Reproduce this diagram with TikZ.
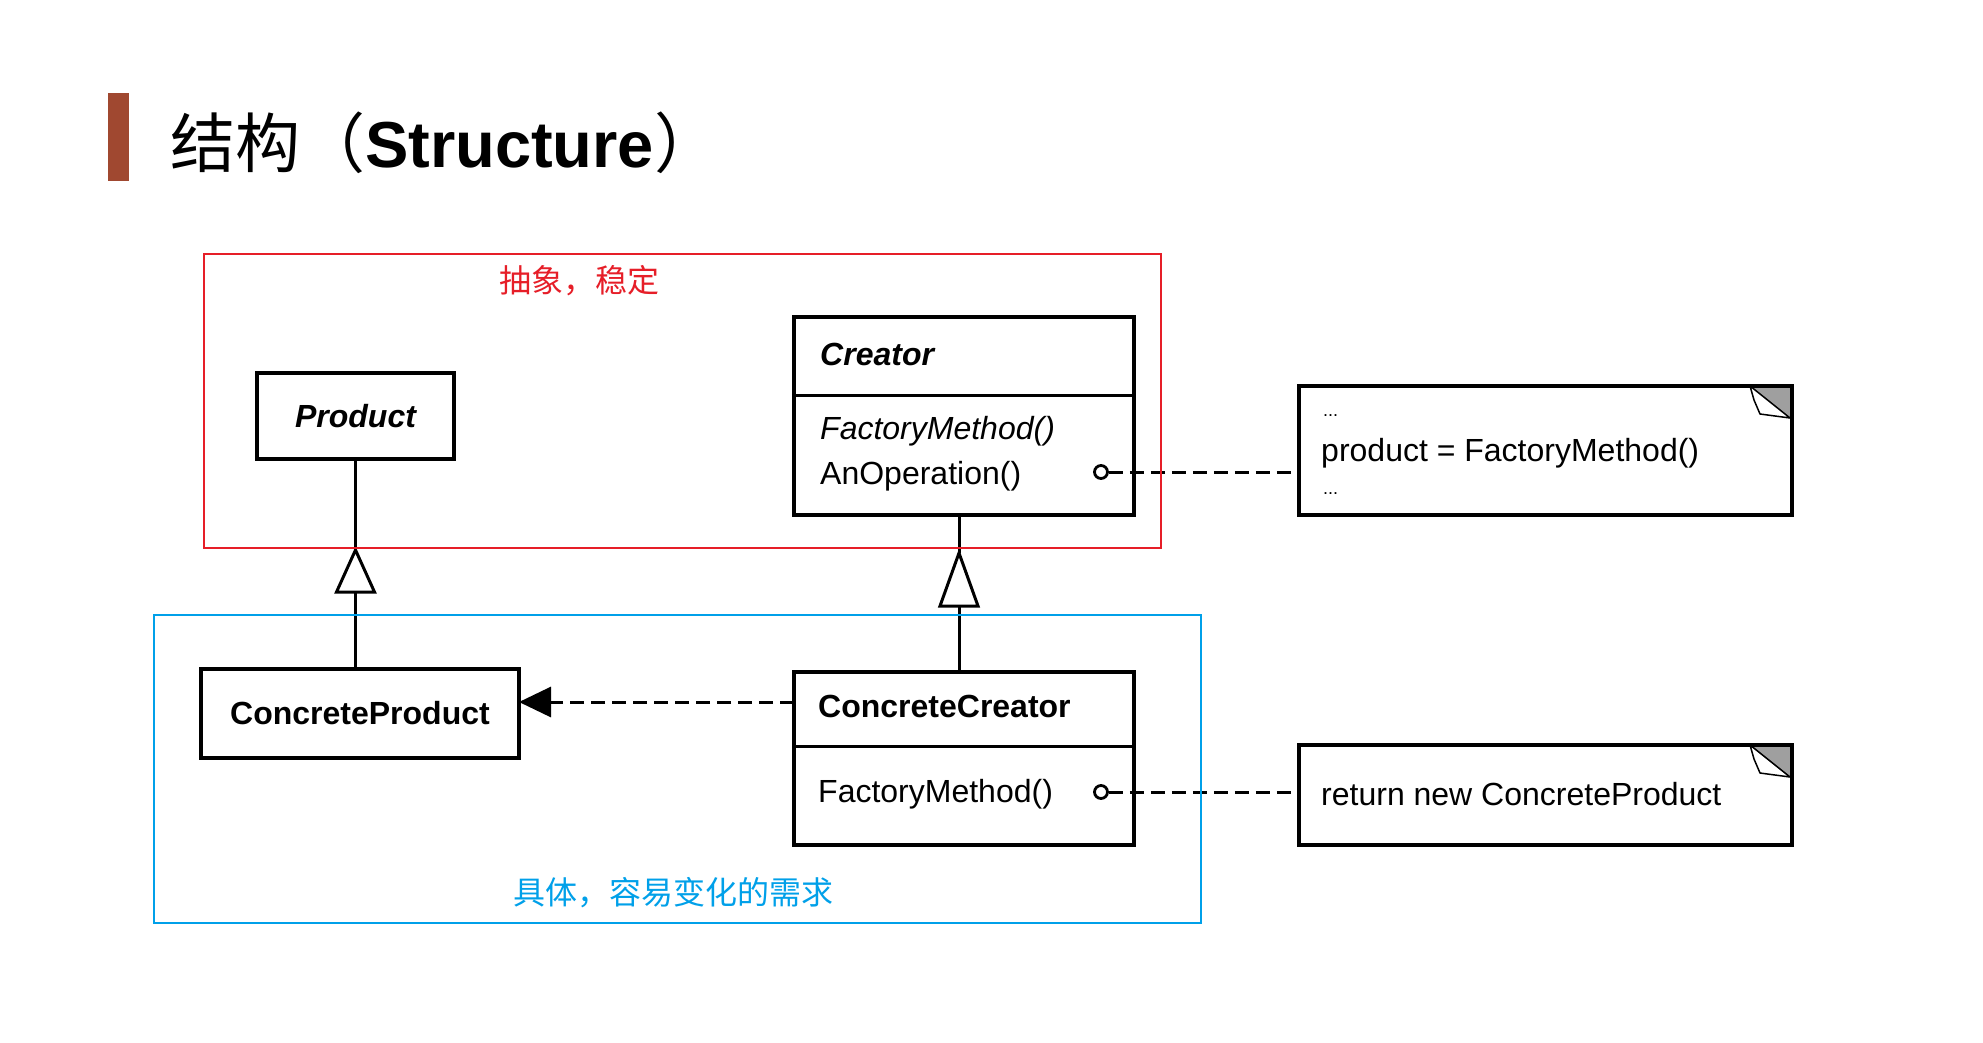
\documentclass[tikz,border=0pt]{standalone}
\usepackage{fontspec}
\setmainfont{Liberation Sans}
\newfontfamily\cjk{Noto Sans CJK SC}
\usetikzlibrary{arrows.meta,calc}
\definecolor{redc}{RGB}{230,30,40}
\definecolor{bluec}{RGB}{0,160,233}
\definecolor{barc}{RGB}{160,72,48}
\begin{document}
\begin{tikzpicture}[x=1pt,y=-1pt,
  umlbox/.style={draw=black, line width=3.4pt, fill=white, rectangle, inner sep=0pt, outer sep=0pt},
  umlline/.style={draw=black, line width=3pt},
  dashline/.style={draw=black, line width=3pt, dash pattern=on 14pt off 7pt},
  umltext/.style={font=\fontsize{32}{38}\selectfont, inner sep=0pt},
  dotstext/.style={font=\fontsize{18}{20}\selectfont, inner sep=0pt},
  frame/.style={rectangle, line width=2.5pt, inner sep=0pt, outer sep=0pt, fill=none},
  cjklabel/.style={font=\cjk\fontsize{32}{36}\selectfont, inner sep=0pt},
  pin/.style={circle, draw=black, line width=2.8pt, minimum size=13pt, inner sep=0pt, fill=white},
  tri/.style={draw=black, line width=3pt, fill=white, line join=miter},
  corner/.style={draw=black, line width=1.5pt}
]
\useasboundingbox[fill=white] (0,0) rectangle (1983,1042);

% title
\fill[barc] (108,93) rectangle (129,181);
\node[anchor=base west, inner sep=0pt, font=\fontsize{65}{76}\selectfont] (title) at (170,167)
  {{\cjk 结构（}\textbf{Structure}{\cjk ）}};

% coordinates
\coordinate (cdiv) at (0,395);
\coordinate (ccdiv) at (0,746);
\coordinate (t1apex) at (355.5,550);
\coordinate (t1base) at (355.5,592);
\coordinate (t2apex) at (959,553);
\coordinate (t2base) at (959,606);

% classes
\node[umlbox, minimum width=197pt, minimum height=86pt] (product) at (355.5,416)
  {\fontsize{32}{38}\selectfont\bfseries\itshape Product};
\node[umlbox, minimum width=340pt, minimum height=198pt] (creator) at (964,416) {};
\draw[umlline] (creator.west |- cdiv) -- (creator.east |- cdiv);
\node[umltext, anchor=west] (creatorname) at (820,354) {\bfseries\itshape Creator};
\node[umltext, anchor=west] (fm1) at (820,431) {\itshape FactoryMethod()};
\node[umltext, anchor=west] (anop) at (820,476) {AnOperation()};

\node[umlbox, minimum width=318pt, minimum height=89pt] (cprod) at (360,713.5)
  {\fontsize{32}{38}\selectfont\bfseries ConcreteProduct};
\node[umlbox, minimum width=340pt, minimum height=173pt] (ccreator) at (964,758.5) {};
\draw[umlline] (ccreator.west |- ccdiv) -- (ccreator.east |- ccdiv);
\node[umltext, anchor=west] (ccname) at (818,706) {\bfseries ConcreteCreator};
\node[umltext, anchor=west] (fm2) at (818,794) {FactoryMethod()};

% notes
\node[umlbox, minimum width=493pt, minimum height=129pt] (note1) at (1545.5,450.5) {};
\node[dotstext, anchor=west] (dots1) at (1323,416) {...};
\node[umltext, anchor=west] (n1text) at (1321,453) {product = FactoryMethod()};
\node[dotstext, anchor=west] (dots2) at (1323,494) {...};
\node[umlbox, minimum width=493pt, minimum height=100pt] (note2) at (1545.5,795) {};
\node[umltext, anchor=west] (n2text) at (1321,794) {return new ConcreteProduct};

% folded corners
\foreach \n in {note1,note2}{
  \fill[gray!75] ($(\n.north east)+(-42,0)$) -- (\n.north east) -- ($(\n.north east)+(0,34)$) -- cycle;
  \draw[corner, fill=white, line join=round] ($(\n.north east)+(-42,0)$) -- ($(\n.north east)+(-2,32)$)
     -- ($(\n.north east)+(-32,28)$) -- ($(\n.north east)+(-38,14)$) -- cycle;
  \draw[draw=black, line width=3.4pt] (\n.north west) rectangle (\n.south east);
}

% inheritance
\draw[umlline] (product.south -| t1apex) -- (t1apex);
\draw[umlline] (t1base) -- (t1base |- cprod.north);
\draw[tri] (t1apex) -- ($(t1base)+(-19,0)$) -- ($(t1base)+(19,0)$) -- cycle;
\draw[umlline] (creator.south -| t2apex) -- (t2apex);
\draw[umlline] (t2base) -- (t2base |- ccreator.north);
\draw[tri] (t2apex) -- ($(t2base)+(-19,0)$) -- ($(t2base)+(19,0)$) -- cycle;

% dependency
\coordinate (deprow) at (0,702);
\draw[dashline, -{Triangle[length=32pt,width=30pt]}] (ccreator.west |- deprow) -- (cprod.east |- deprow);

% note links
\node[pin] (pin1) at (1101,472) {};
\draw[dashline] (pin1.east) -- (pin1.east -| note1.west);
\node[pin] (pin2) at (1101,792) {};
\draw[dashline] (pin2.east) -- (pin2.east -| note2.west);

% frames
\node[frame, draw=redc, minimum width=957pt, minimum height=294pt] (absframe) at (682.5,401) {};
\node[cjklabel, text=redc] (abslabel) at (579,281) {抽象，稳定};
\node[frame, draw=bluec, minimum width=1047pt, minimum height=308pt] (concframe) at (677.5,769) {};
\node[cjklabel, text=bluec] (conclabel) at (673,893) {具体，容易变化的需求};
\end{tikzpicture}
\end{document}
